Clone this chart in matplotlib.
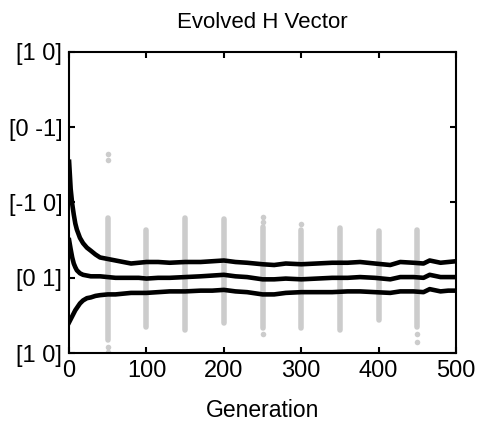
import numpy as np
import matplotlib
matplotlib.use("Agg")
import matplotlib.pyplot as plt

plt.rcParams['font.family'] = ['Liberation Sans', 'DejaVu Sans']

# generations sampled along the three black curves
gen = [0, 2, 4, 6, 8, 10, 14, 18, 23, 28, 34, 40, 50, 60, 70, 80, 90, 100,
       115, 130, 150, 170, 185, 200, 215, 230, 250, 265, 280, 300, 320, 340,
       360, 376, 395, 415, 428, 445, 458, 466, 480, 490, 500]
upper = [2.54, 2.18, 1.98, 1.84, 1.72, 1.64, 1.53, 1.46, 1.40, 1.36, 1.31, 1.27,
         1.25, 1.23, 1.21, 1.19, 1.20, 1.21, 1.21, 1.20, 1.21, 1.21, 1.22, 1.23,
         1.21, 1.20, 1.18, 1.17, 1.19, 1.18, 1.19, 1.20, 1.20, 1.21, 1.19, 1.17,
         1.21, 1.20, 1.19, 1.23, 1.20, 1.21, 1.22]
middle = [1.50, 1.38, 1.27, 1.19, 1.14, 1.10, 1.06, 1.04, 1.03, 1.02, 1.02, 1.02,
          1.01, 1.00, 1.00, 1.00, 1.00, 0.99, 1.00, 1.00, 1.01, 1.02, 1.03, 1.04,
          1.02, 1.01, 0.98, 0.98, 0.99, 0.98, 0.99, 1.00, 1.00, 1.01, 1.00, 0.98,
          1.01, 1.01, 1.00, 1.04, 1.01, 1.01, 1.01]
lower = [0.41, 0.45, 0.49, 0.53, 0.57, 0.60, 0.66, 0.70, 0.73, 0.74, 0.76, 0.77,
         0.78, 0.78, 0.79, 0.80, 0.80, 0.80, 0.81, 0.82, 0.82, 0.83, 0.83, 0.84,
         0.82, 0.81, 0.78, 0.78, 0.80, 0.81, 0.81, 0.81, 0.82, 0.82, 0.81, 0.80,
         0.82, 0.82, 0.81, 0.85, 0.82, 0.83, 0.83]

# gray population samples: range of each column plus stray points
pop_gen = [50, 100, 150, 200, 250, 300, 350, 400, 450]
pop_lo = [0.17, 0.35, 0.31, 0.40, 0.33, 0.33, 0.31, 0.44, 0.35]
pop_hi = [1.79, 1.63, 1.79, 1.78, 1.67, 1.63, 1.66, 1.62, 1.63]
out_gen = [50, 50, 50, 50, 250, 250, 250, 300, 450, 450]
out_val = [2.64, 2.57, 0.08, 0.01, 1.81, 1.74, 0.26, 1.72, 0.26, 0.15]

ylabels = ['[1 0]', '[0 1]', '[-1 0]', '[0 -1]', '[1 0]']

fig = plt.figure(figsize=(4.8, 4.24), dpi=100)
ax = fig.add_axes([0.144, 0.167, 0.806, 0.711])

gray = '#cccccc'
ax.vlines(pop_gen, pop_lo, pop_hi, color=gray, linewidth=4, capstyle='round', zorder=1)
ax.scatter(out_gen, out_val, s=16, color=gray, linewidths=0, zorder=1)

for vals in (upper, middle, lower):
    ax.plot(gen, vals, color='black', linewidth=3.3, zorder=2)

ax.set_xlim(0, 500)
ax.set_ylim(0, 4)
ax.set_xticks([0, 100, 200, 300, 400, 500])
ax.set_yticks([0, 1, 2, 3, 4])
ax.set_yticklabels(ylabels)
ax.tick_params(direction='in', length=4, width=1.5, top=True, right=True,
               labelsize=17, pad=5)
for s in ax.spines.values():
    s.set_linewidth(1.5)

ax.set_title('Evolved H Vector', fontsize=16, pad=17)
ax.set_xlabel('Generation', fontsize=16.5, labelpad=12)

fig.savefig('out.png', dpi=100)
